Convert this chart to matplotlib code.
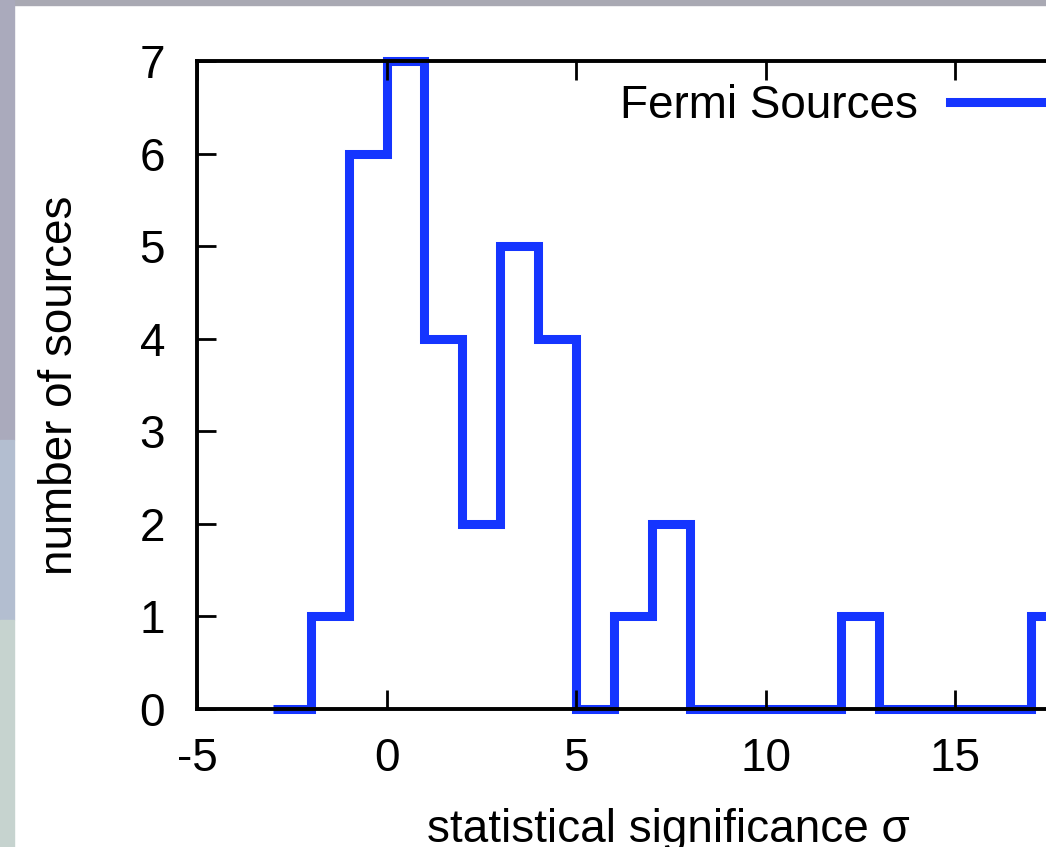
import numpy as np
import matplotlib.pyplot as plt
from matplotlib.patches import Rectangle

plt.rcParams['font.family'] = ['Liberation Sans', 'DejaVu Sans']
plt.rcParams['axes.unicode_minus'] = False

# histogram of significances, bins of width 1
bin_edges = [-3, -2, -1, 0, 1, 2, 3, 4, 5, 6, 7, 8, 9, 10, 11, 12, 13, 14, 15, 16, 17, 18]
counts = [0, 1, 6, 7, 4, 2, 5, 4, 0, 1, 2, 0, 0, 0, 0, 1, 0, 0, 0, 0, 1]
xticks = [-5, 0, 5, 10, 15]
yticks = [0, 1, 2, 3, 4, 5, 6, 7]

W, H = 1046, 847
fig = plt.figure(figsize=(W / 100, H / 100), dpi=100)
fig.patch.set_facecolor('white')

# slide frame: grey band on top, photo strip on the left
def frame_rect(x0, y0, w, h, c):
    fig.patches.append(Rectangle((x0 / W, 1 - (y0 + h) / H), w / W, h / H,
                                 transform=fig.transFigure, color=c, zorder=-5))

frame_rect(0, 0, W, 5, '#a9a9b3')
frame_rect(0, 0, 14, 440, '#aaaabc')
frame_rect(0, 440, 14, 180, '#b3bed0')
frame_rect(0, 620, 14, 227, '#c6d3cf')

# axes runs past the right edge of the slide (cropped like the original)
px_unit = 37.9
ax = fig.add_axes([197 / W, (H - 709) / H, 25 * px_unit / W, (709 - 61) / H])
ax.set_facecolor('none')

ax.stairs(counts, bin_edges, baseline=None, color='#1535ff', lw=6.5,
          clip_on=False, label='Fermi Sources')

ax.set_xlim(-5, 20)
ax.set_ylim(0, 7)
ax.set_xticks(xticks)
ax.set_yticks(yticks)
ax.tick_params(direction='in', length=14, width=2, top=True, right=True,
               labelsize=33)
ax.tick_params(axis='x', pad=20)
ax.tick_params(axis='y', pad=23)
for s in ax.spines.values():
    s.set_linewidth(2.8)

fig.text(60 / W, 1 - 385 / H, 'number of sources', rotation=90,
         ha='center', va='center', fontsize=33)
fig.text(668 / W, (H - 842) / H, 'statistical significance σ',
         ha='center', va='baseline', fontsize=33)

ax.legend(loc='center right', bbox_to_anchor=(1120 / W, 1 - 106 / H),
          bbox_transform=fig.transFigure, frameon=False, markerfirst=False,
          fontsize=33, handlelength=3.7, handletextpad=0.7, borderpad=0,
          borderaxespad=0)

fig.savefig('out.png', dpi=100)
